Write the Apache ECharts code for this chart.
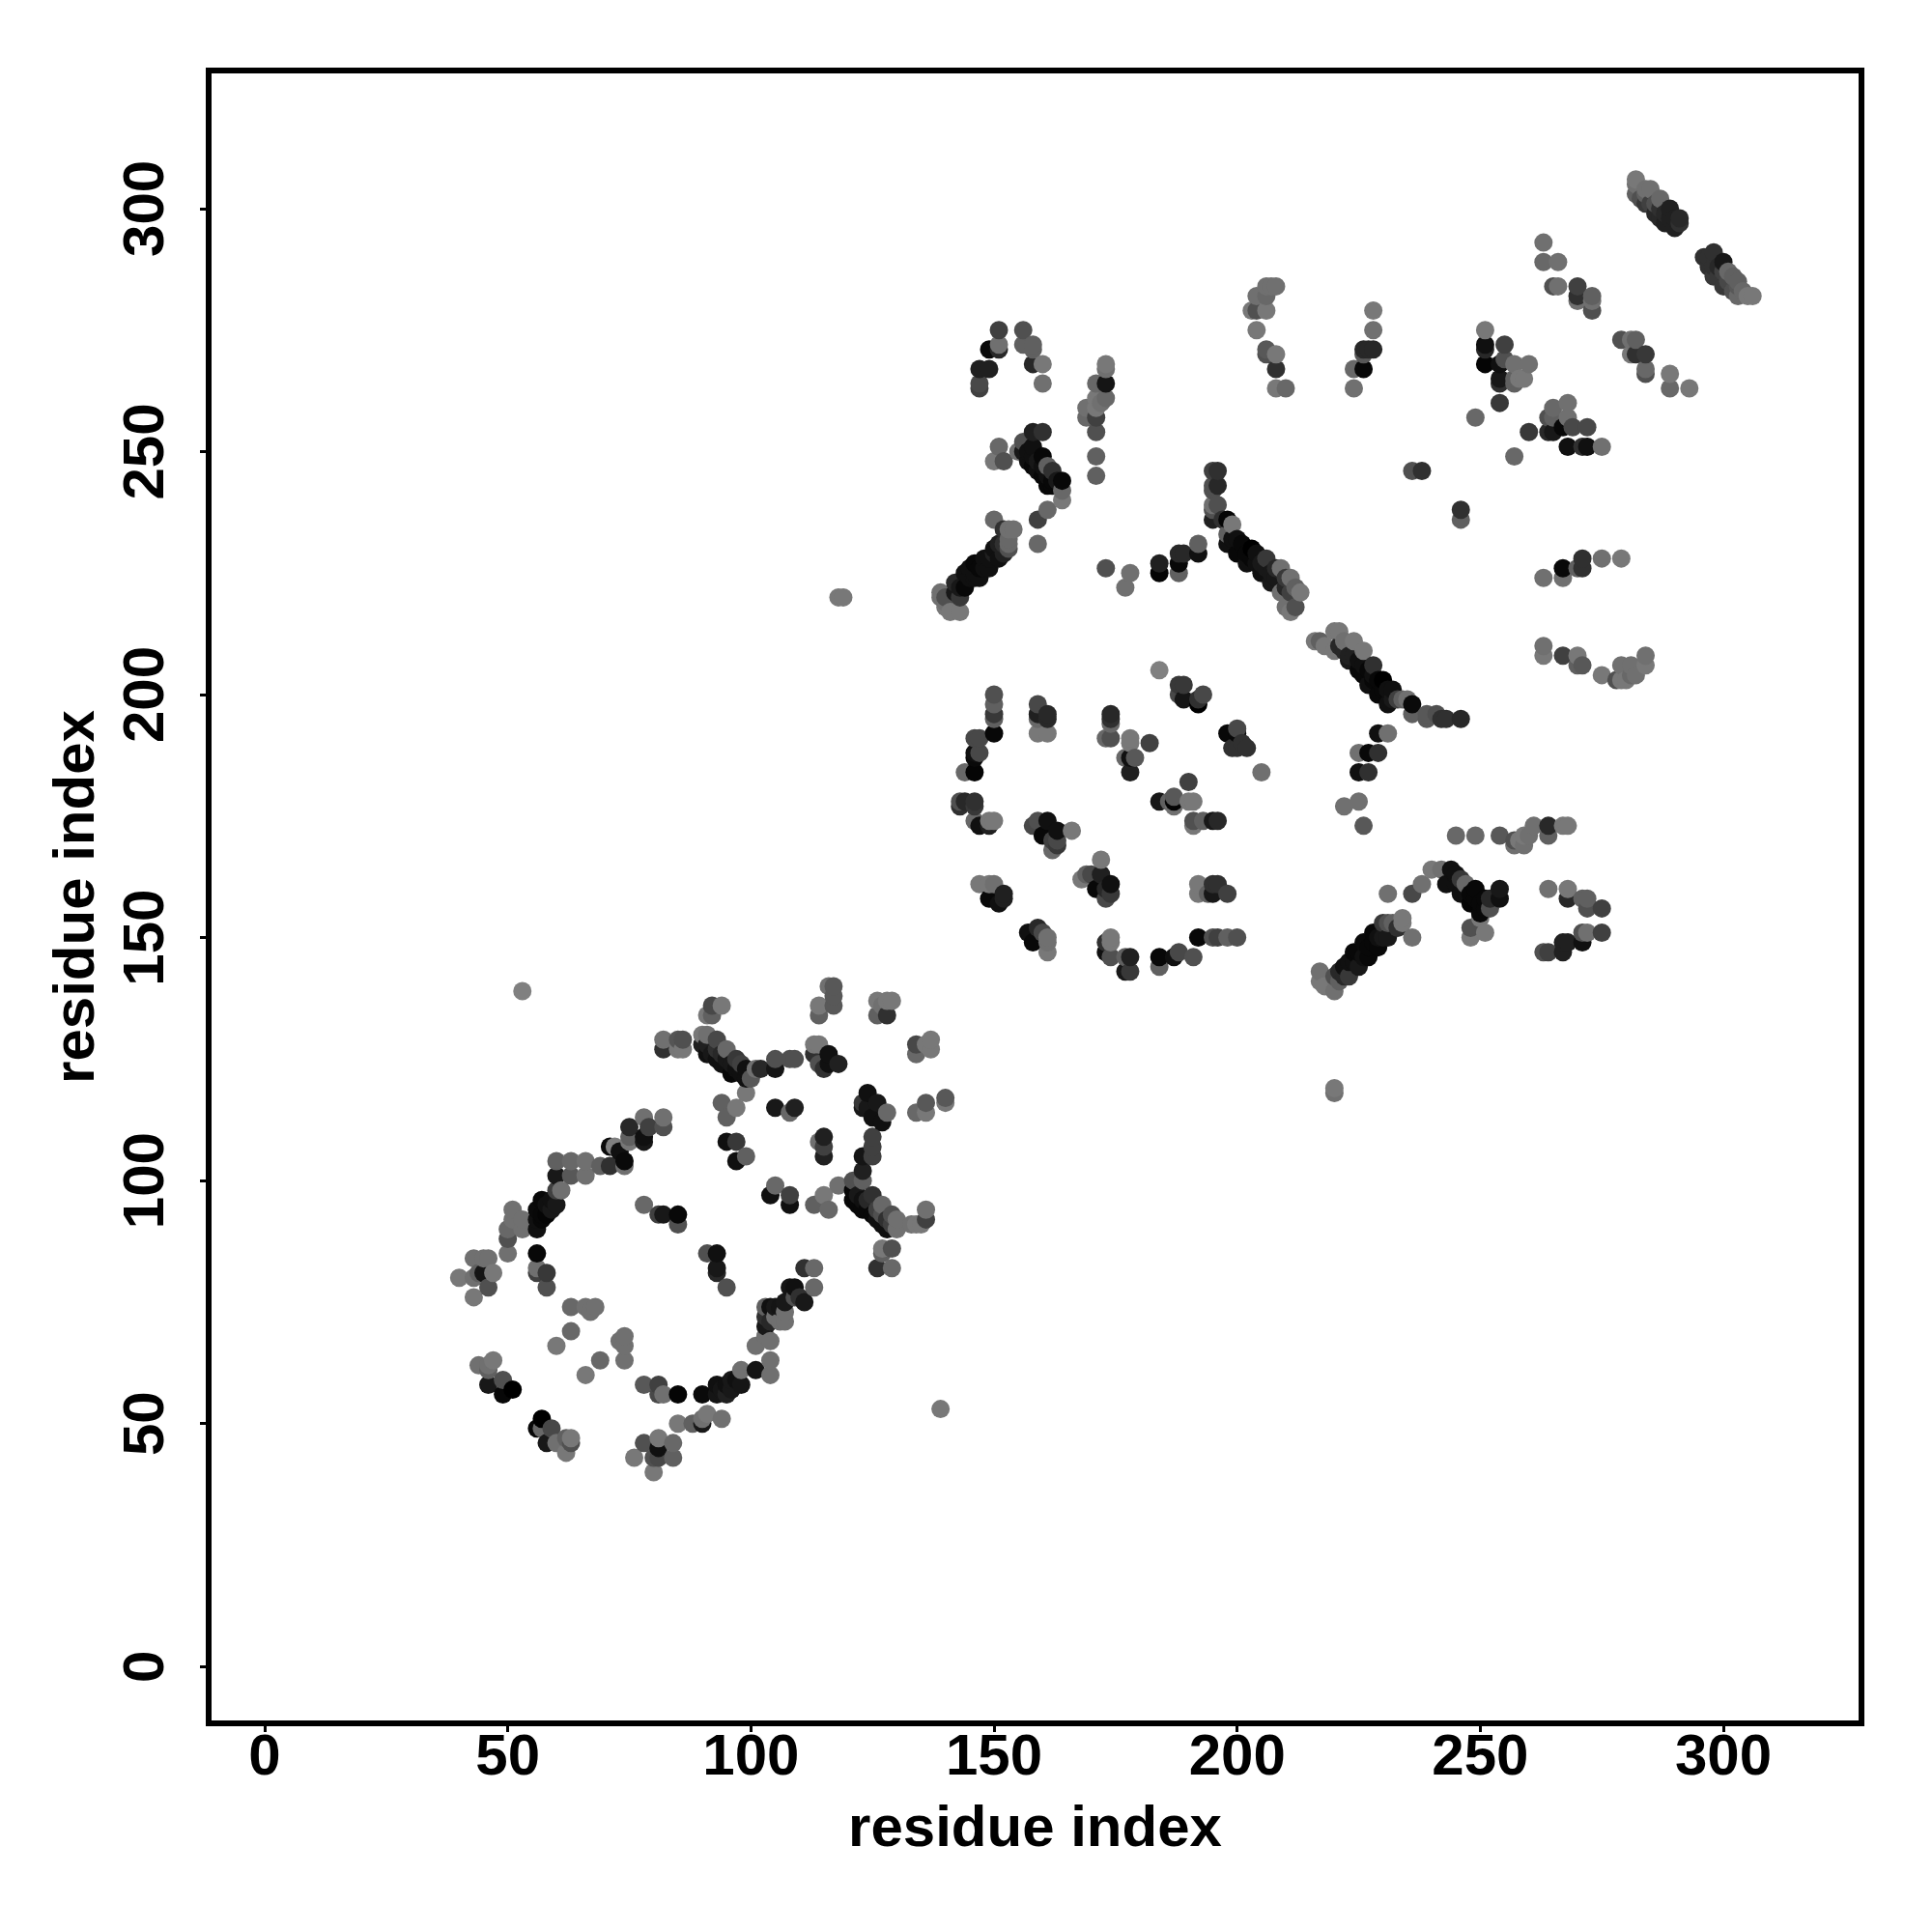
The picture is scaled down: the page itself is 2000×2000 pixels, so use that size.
<!DOCTYPE html>
<html>
<head>
<meta charset="utf-8">
<style>html,body{margin:0;padding:0;background:#fff}#chart{width:2000px;height:2000px}</style>
<script src="https://cdn.jsdelivr.net/npm/echarts@6/dist/echarts.min.js"></script>
</head>
<body>
<div id="chart"></div>
<script>
// [residue x, residue y, tone 0 (black) .. 128 (mid grey)]
const tickValues = [0, 50, 100, 150, 200, 250, 300];
const xTitle = 'residue index';
const yTitle = 'residue index';

const lowerUpperArm = [
[53,139,0x80],[82,129,0x70],[82,127,0x30],[85,129,0x55],[86,129,0x50],[85,127,0x77],[86,127,0x78],
[82,113,0x70],[82,111,0x50],[78,113,0x70],[79,111,0x40],[75,111,0x28],[78,108,0x18],[78,109,0x10],[75,109,0x60],[75,108,0x77],
[71,107,0x0a],[72,107,0x80],[73,106,0x10],[74,104,0x0a],[74,103,0x70],[71,103,0x30],[69,103,0x60],[66,104,0x70],[66,101,0x70],
[63,104,0x68],[63,101,0x58],[60,104,0x60],[60,101,0x18],[61,98,0x70],[60,98,0x40],[60,95,0x18],[57,96,0x08],[58,93,0x05],
[56,94,0x0a],[56,92,0x10],[56,90,0x10],[51,94,0x70],[53,92,0x70],[53,90,0x70],[51,92,0x70],[50,90,0x68],[50,88,0x50],[50,85,0x70],[56,85,0x08],
[78,95,0x68],[81,93,0x40],[82,93,0x18],[85,93,0x08],[85,91,0x50],[57,93,0x08],[58,95,0x10],[59,96,0x10],[59,94,0x18],[57,92,0x08]
];
const lowerBottomArm = [
[43,84,0x70],[45,84,0x70],[46,84,0x70],[40,80,0x78],[43,80,0x70],[47,81,0x78],[45,81,0x15],[46,78,0x50],[43,76,0x78],[44,81,0x60],
[56,82,0x70],[56,81,0x40],[58,81,0x38],[58,78,0x50],[63,74,0x68],[66,74,0x70],[67,73,0x70],[68,74,0x70],[63,69,0x68],[60,66,0x78],
[74,68,0x70],[73,67,0x70],[74,66,0x70],[74,63,0x70],[69,63,0x68],[66,60,0x78],[78,58,0x58],[81,58,0x40],[81,56,0x48],[82,56,0x70],[85,56,0x05],[90,56,0x0a],[93,58,0x10],
[44,62,0x70],[46,62,0x70],[47,63,0x78],[46,61,0x60],[46,58,0x18],[49,59,0x50],[49,56,0x08],[51,57,0x00],
[57,51,0x00],[56,49,0x08],[59,49,0x48],[58,46,0x18],[57,49,0x68],[60,46,0x70],[62,47,0x60],[63,47,0x78],[62,44,0x78],[63,46,0x50],
[78,46,0x50],[81,47,0x78],[81,45,0x10],[81,43,0x48],[84,46,0x68],[84,43,0x60],[76,43,0x78],[80,40,0x78],[80,43,0x50],
[85,50,0x78],[88,50,0x60],[90,50,0x18],[90,51,0x70],[91,52,0x78],[94,51,0x70],[91,85,0x50],[93,85,0x10],[93,82,0x18],[93,81,0x28],[95,78,0x50],
[93,56,0x15],[95,58,0x10],[96,59,0x18],[98,61,0x70],[101,61,0x15],[101,66,0x70],[104,60,0x70],[104,63,0x70],[104,67,0x70],[103,70,0x18],[103,72,0x30],[104,74,0x10],
[107,71,0x70],[107,73,0x70],[106,74,0x15],[108,78,0x15],[109,78,0x10],[111,75,0x18],[113,78,0x68],[111,82,0x30],[113,82,0x68],
[103,74,0x60],[104,71,0x28],[105,74,0x18],[105,72,0x70],[103,68,0x70],[106,71,0x70],[109,76,0x50],[110,76,0x30],[107,75,0x18],
[94,57,0x15],[95,56,0x20],[96,57,0x18],[97,59,0x10],[98,58,0x15]
];
const lowerRightArm = [
[91,134,0x78],[92,136,0x48],[94,136,0x78],[92,134,0x60],[90,130,0x78],[91,130,0x70],[93,129,0x48],[91,128,0x20],[92,126,0x18],[95,127,0x68],
[94,124,0x10],[97,125,0x38],[96,122,0x08],[99,123,0x10],[100,121,0x58],[99,121,0x10],[99,118,0x78],[101,123,0x70],[102,123,0x28],[105,125,0x50],[105,123,0x15],[108,125,0x50],[109,125,0x50],
[93,127,0x30],[94,126,0x28],[95,125,0x18],[96,124,0x18],[97,123,0x10],[98,122,0x10],[98,124,0x40],[93,125,0x10],[91,126,0x10],[90,128,0x20],
[113,128,0x78],[114,128,0x78],[113,126,0x30],[114,124,0x50],[116,126,0x10],[115,123,0x30],[116,124,0x10],[118,124,0x20],
[116,140,0x70],[117,140,0x58],[117,138,0x58],[117,136,0x58],[114,136,0x78],[114,134,0x60],
[126,137,0x78],[128,137,0x78],[129,137,0x78],[126,134,0x60],[128,134,0x30],[127,136,0x70],
[134,128,0x48],[137,129,0x78],[136,128,0x78],[137,127,0x78],[134,126,0x68],
[136,116,0x58],[140,117,0x58],[136,114,0x78],[134,114,0x68],[140,116,0x78],
[124,118,0x10],[123,116,0x38],[126,116,0x18],[124,115,0x18],[128,114,0x68],[125,113,0x10],[127,112,0x10],[123,115,0x18],
[94,116,0x60],[97,115,0x78],[95,113,0x60],[105,115,0x18],[108,114,0x68],[109,115,0x20],
[95,108,0x10],[97,108,0x38],[97,104,0x10],[99,105,0x60],[115,109,0x20],[114,108,0x70],[115,107,0x40],[115,105,0x20],
[125,109,0x40],[125,107,0x40],[123,105,0x15],[125,105,0x40],[123,102,0x20],[123,100,0x60],[121,100,0x50],[118,99,0x70],
[121,98,0x08],[121,96,0x08],[125,97,0x30],[124,94,0x08],[127,95,0x68],[126,92,0x10],[129,93,0x50],[130,92,0x70],[128,90,0x10],[130,90,0x70],[134,91,0x78],[135,91,0x78],[136,94,0x70],[136,92,0x40],[133,91,0x70],
[122,97,0x18],[122,95,0x08],[123,96,0x10],[123,94,0x08],[124,96,0x28],[125,93,0x08],[126,94,0x40],[127,91,0x10],[127,93,0x50],[128,92,0x30],[129,91,0x40],
[105,99,0x68],[104,97,0x10],[108,97,0x40],[108,95,0x10],[115,97,0x78],[113,95,0x60],[116,94,0x68],
[127,86,0x78],[129,86,0x50],[127,85,0x60],[126,82,0x30],[129,82,0x68],[118,220,0x78],[119,220,0x78],[220,119,0x78],[220,118,0x70],[139,53,0x78]
];
const upperLeftArm = [
[151,275,0x40],[156,275,0x50],[149,271,0x0a],[151,272,0x70],[151,271,0x28],[156,272,0x60],[158,272,0x60],[158,271,0x60],
[147,267,0x20],[149,267,0x20],[158,268,0x28],[160,268,0x78],[147,264,0x48],[147,263,0x40],[160,264,0x70],
[173,268,0x78],[173,267,0x70],[173,264,0x15],[171,264,0x68],[173,261,0x68],[171,261,0x78],[172,260,0x70],[169,259,0x70],[171,259,0x78],[169,257,0x68],[171,257,0x40],[171,254,0x50],[171,249,0x60],[171,245,0x60],
[158,254,0x20],[160,254,0x30],[156,252,0x50],[158,251,0x10],[155,250,0x70],[156,250,0x18],[157,248,0x10],[160,249,0x08],[161,247,0x60],[159,246,0x10],[162,246,0x30],[161,243,0x08],[164,244,0x08],[164,242,0x68],[164,240,0x78],[163,244,0x18],
[157,250,0x10],[158,249,0x10],[158,247,0x08],[159,248,0x18],[160,247,0x10],[160,245,0x08],[161,245,0x10],[162,244,0x08],[162,243,0x08],
[151,251,0x68],[150,248,0x78],[152,248,0x50],[161,238,0x68],[159,236,0x40],[159,231,0x68],
[150,236,0x68],[152,234,0x30],[153,234,0x70],[154,234,0x70],[153,231,0x68],[153,232,0x68],[151,231,0x20],[153,230,0x50],[150,230,0x10],[151,228,0x10],[149,228,0x10],[149,226,0x10],[146,227,0x08],[147,226,0x08],[144,225,0x10],[147,224,0x10],[144,222,0x08],[142,223,0x28],[143,220,0x38],[142,221,0x18],
[145,226,0x10],[146,225,0x10],[148,228,0x10],[150,229,0x20],[148,226,0x10],[145,224,0x10],[143,222,0x18],[146,224,0x10],[152,231,0x30],[152,229,0x20],
[139,221,0x70],[139,220,0x70],[140,220,0x50],[140,218,0x78],[141,217,0x78],[143,217,0x78],[140,219,0x70],
[173,226,0x50],[178,225,0x70],[177,222,0x70],[184,227,0x20],[184,225,0x05],[188,229,0x28],[189,229,0x28],[188,227,0x08],[188,225,0x60],[192,231,0x60],[192,229,0x10]
];
const upperCentreDiagonal = [
[195,246,0x40],[196,246,0x30],[195,243,0x50],[196,243,0x28],[195,242,0x50],[195,239,0x70],[196,239,0x50],[195,238,0x50],[195,236,0x20],
[198,236,0x05],[199,235,0x78],[198,233,0x60],[198,231,0x10],[200,232,0x10],[200,229,0x08],[203,230,0x00],[202,227,0x10],[206,228,0x38],[205,225,0x10],[203,228,0x08],[206,226,0x18],[209,226,0x70],[211,224,0x70],[207,223,0x18],[212,222,0x60],[213,221,0x78],[209,221,0x70],[212,218,0x50],[210,218,0x70],[211,217,0x78],
[201,231,0x08],[202,229,0x08],[204,229,0x10],[204,227,0x10],[205,227,0x18],[207,225,0x18],[208,224,0x18],[208,226,0x28],[210,222,0x28],[210,224,0x38],[211,221,0x40],[199,232,0x10],[197,236,0x30],
[217,211,0x60],[216,211,0x78],[218,210,0x78],[220,213,0x78],[221,213,0x78],[222,211,0x70],[220,209,0x78],[224,211,0x78],[221,210,0x28],[226,209,0x78],[223,208,0x20],[228,206,0x30],[225,205,0x08],[230,203,0x00],[227,202,0x10],[232,201,0x10],[229,200,0x08],[231,198,0x10],[234,199,0x60],[236,198,0x0a],[236,196,0x60],[239,196,0x58],[241,196,0x50],
[222,209,0x28],[223,207,0x18],[224,208,0x20],[225,207,0x10],[226,206,0x10],[226,204,0x08],[227,205,0x08],[228,203,0x08],[228,204,0x10],[229,203,0x08],[230,201,0x08],[231,201,0x10],[232,199,0x18],[233,199,0x40],
[239,195,0x58],[242,195,0x30],[243,195,0x30],[246,195,0x28],[235,199,0x70],
[229,192,0x10],[231,192,0x70],[225,188,0x70],[227,188,0x08],[229,188,0x30],[225,184,0x10],[227,184,0x30],[225,178,0x70],[222,177,0x70],[226,173,0x58]
];
const upperRightPatches = [
[263,210,0x70],[263,208,0x78],[267,208,0x40],[270,208,0x78],[271,206,0x58],[270,206,0x60],[275,204,0x78],
[245,171,0x68],[249,171,0x68],[254,171,0x58],[257,170,0x50],[257,169,0x70],[259,169,0x70],[259,171,0x78],[261,173,0x70],[260,171,0x70],[264,173,0x28],[264,171,0x60],[267,173,0x78],[268,173,0x78],[258,170,0x78],
[240,164,0x78],[242,164,0x70],[244,164,0x10],[238,161,0x70],[236,159,0x48],[231,159,0x70],[243,161,0x10],[246,162,0x38],[247,161,0x68],[246,159,0x10],[249,160,0x08],[248,157,0x05],[251,158,0x08],[250,155,0x08],[252,156,0x50],[250,154,0x78],[254,160,0x18],[254,158,0x10],
[245,163,0x10],[245,161,0x10],[247,159,0x10],[248,159,0x08],[249,158,0x08],[250,157,0x08],[251,156,0x08],[252,158,0x28],
[248,152,0x50],[251,151,0x78],[248,150,0x78],[264,160,0x70],[268,160,0x78],[268,158,0x28],[271,158,0x60],[272,158,0x60],[272,156,0x50],[275,156,0x40],
[272,151,0x70],[271,151,0x50],[271,149,0x10],[275,151,0x40],[267,149,0x20],[268,149,0x20],[267,147,0x20],[263,147,0x50],[264,147,0x40],
[217,143,0x70],[217,141,0x78],[218,140,0x78],[220,139,0x70],[220,142,0x50],[221,141,0x60],[221,143,0x28],[222,144,0x10],[223,142,0x38],[225,144,0x18],[224,147,0x08],[227,146,0x08],[226,149,0x0a],[229,148,0x08],[228,151,0x08],[231,150,0x18],[230,153,0x38],[231,153,0x50],[232,153,0x60],[233,152,0x30],[234,154,0x78],[234,153,0x78],[236,150,0x70],
[223,145,0x10],[224,145,0x10],[225,147,0x08],[226,146,0x10],[227,148,0x08],[228,149,0x08],[229,150,0x10],[230,150,0x18],[222,142,0x28],
[206,284,0x70],[207,284,0x70],[208,284,0x70],[204,282,0x70],[206,282,0x68],[203,279,0x78],[204,279,0x50],[206,279,0x78],[204,275,0x78],
[206,271,0x58],[206,270,0x50],[208,270,0x78],[208,267,0x30],[208,263,0x78],[210,263,0x68],
[228,279,0x78],[228,275,0x70],[226,271,0x28],[227,271,0x28],[228,271,0x28],[226,270,0x58],[224,267,0x68],[226,267,0x08],[224,263,0x70],
[236,246,0x50],[238,246,0x30],[246,238,0x30],[246,236,0x60],
[251,275,0x78],[251,272,0x10],[251,271,0x28],[251,268,0x05],[255,272,0x40],[255,269,0x50],[254,268,0x10],[257,268,0x70],[260,268,0x70],[259,265,0x78],[258,265,0x78],[257,265,0x60],[257,264,0x60],[254,265,0x18],[254,264,0x30],[254,260,0x38],[249,257,0x68],
[257,249,0x68],[260,254,0x38],[264,254,0x28],[265,254,0x18],[265,259,0x68],[268,260,0x70],[265,257,0x60],[268,257,0x70],[264,257,0x50],[267,255,0x08],[269,255,0x48],[272,255,0x48],[268,251,0x10],[271,251,0x30],[272,251,0x10],[275,251,0x70],
[263,293,0x70],[263,289,0x68],[266,289,0x70],[266,284,0x70],[265,284,0x50],[270,284,0x40],[270,282,0x30],[270,281,0x70],[273,282,0x60],[273,279,0x50],[273,281,0x70],
[282,306,0x78],[282,305,0x70],[282,303,0x60],[284,304,0x70],[285,304,0x70],[284,301,0x38],[287,302,0x68],[286,299,0x28],[289,300,0x20],[288,297,0x20],[291,298,0x28],[290,296,0x20],[291,297,0x30],
[283,302,0x50],[284,303,0x60],[285,301,0x40],[286,301,0x50],[287,300,0x30],[287,298,0x28],[288,299,0x28],[289,298,0x20],[290,298,0x20],
[298,291,0x30],[296,290,0x30],[297,288,0x30],[300,289,0x18],[298,286,0x38],[301,287,0x68],[300,284,0x38],[303,285,0x60],[303,282,0x68],[305,282,0x78],[306,282,0x78],
[297,290,0x30],[298,288,0x30],[299,288,0x28],[299,286,0x38],[300,287,0x40],[301,285,0x48],[302,286,0x60],[302,283,0x50],[303,284,0x58],[304,283,0x68],
[279,273,0x50],[281,273,0x70],[282,273,0x60],[281,270,0x78],[282,270,0x30],[284,270,0x38],[284,267,0x68],[284,266,0x50],[289,266,0x78],[289,263,0x68],[293,263,0x78],
[263,224,0x70],[267,224,0x70],[267,226,0x08],[270,226,0x60],[271,226,0x30],[271,228,0x30],[275,228,0x70],[279,228,0x78],
[279,206,0x70],[279,203,0x78],[278,203,0x50],[281,206,0x70],[281,204,0x68],[282,204,0x70],[284,208,0x70],[284,206,0x78],[280,203,0x78]
];
const upperRing = [
[150,200,0x50],[150,198,0x60],[150,196,0x38],[150,195,0x60],[150,192,0x08],[159,198,0x48],[159,196,0x20],[161,196,0x28],[161,195,0x28],[159,195,0x68],[159,192,0x78],[161,192,0x78],
[146,191,0x48],[147,191,0x48],[146,188,0x10],[147,188,0x48],[146,187,0x0a],[144,184,0x68],[146,184,0x05],
[143,178,0x50],[143,177,0x30],[144,178,0x28],[146,178,0x30],[146,177,0x38],[146,174,0x68],[147,173,0x10],[149,173,0x20],[149,174,0x78],[150,174,0x78],
[158,173,0x48],[159,174,0x50],[161,174,0x10],[160,171,0x08],[163,172,0x10],[162,170,0x40],[163,170,0x48],[162,168,0x68],[163,169,0x38],[166,172,0x78],
[172,166,0x78],[168,162,0x78],[169,163,0x60],[170,163,0x48],[172,163,0x20],[171,160,0x08],[174,161,0x10],[173,160,0x28],[174,159,0x38],[173,158,0x48],
[147,161,0x78],[149,161,0x78],[150,161,0x70],[149,158,0x08],[151,157,0x10],[152,159,0x20],[152,158,0x20],
[159,152,0x28],[157,151,0x10],[158,149,0x08],[160,151,0x48],[161,150,0x70],[161,149,0x70],[161,147,0x78],
[174,150,0x78],[174,149,0x78],[173,149,0x30],[173,147,0x10],[174,146,0x50],[178,146,0x20],[177,146,0x60],[177,143,0x18],[178,143,0x38],
[184,146,0x08],[184,144,0x60],[187,146,0x10],[188,147,0x48],[191,146,0x50],[192,150,0x08],[195,150,0x50],[196,150,0x40],[198,150,0x60],[200,150,0x50],
[192,161,0x78],[192,159,0x78],[195,161,0x30],[196,161,0x30],[195,159,0x18],[194,159,0x60],[198,159,0x40],
[184,205,0x80],[188,202,0x38],[189,202,0x38],[188,200,0x48],[189,199,0x15],[192,199,0x30],[193,200,0x48],[192,198,0x00],
[174,196,0x28],[174,195,0x30],[174,194,0x68],[174,191,0x50],[173,191,0x68],[178,191,0x78],[178,190,0x78],[182,190,0x40],[177,187,0x68],[178,187,0x10],[179,187,0x58],[178,184,0x20],
[190,182,0x40],[184,178,0x18],[186,178,0x60],[187,179,0x58],[187,178,0x05],[187,177,0x70],[190,178,0x78],[191,178,0x78],
[191,174,0x50],[191,173,0x78],[193,174,0x60],[195,174,0x18],[196,174,0x28],
[198,192,0x08],[200,193,0x48],[200,192,0x08],[199,189,0x30],[200,189,0x30],[202,189,0x30],[201,190,0x30],[205,184,0x70]
];

// R draws the contacts in residue order, so later residues sit on top.
const contacts = [].concat(lowerUpperArm, lowerBottomArm, lowerRightArm, upperLeftArm,
  upperCentreDiagonal, upperRightPatches, upperRing)
  .sort((a, b) => a[0] - b[0] || a[1] - b[1]);

const font = { color: '#000', fontFamily: 'Liberation Sans', fontWeight: 'bold', fontSize: 60 };
function axis(name, extra) {
  return Object.assign({
    type: 'value', name: name, nameLocation: 'middle',
    nameTextStyle: font,
    axisLine: { show: false, onZero: false },
    splitLine: { show: false },
    axisTick: { show: true, customValues: tickValues, length: 9, lineStyle: { color: '#000', width: 3 } }
  }, extra);
}
const chart = echarts.init(document.getElementById('chart'), null, { renderer: 'canvas' });
chart.setOption({
  animation: false,
  backgroundColor: '#fff',
  grid: { show: true, left: 216, top: 73, width: 1711, height: 1711, borderColor: '#000', borderWidth: 6, backgroundColor: 'transparent' },
  xAxis: axis(xTitle, { min: -11.52, max: 328.4, nameGap: 80,
    axisLabel: Object.assign({ customValues: tickValues, margin: 6, hideOverlap: false }, font) }),
  yAxis: axis(yTitle, { min: -11.67, max: 328.4, nameGap: 106, nameRotate: 90,
    axisLabel: Object.assign({ customValues: tickValues, margin: 34, rotate: 90, hideOverlap: false }, font) }),
  visualMap: { show: false, type: 'continuous', dimension: 2, min: 0, max: 128, seriesIndex: 0, inRange: { color: ['#000000', '#808080'] } },
  series: [{
    type: 'scatter', data: contacts, symbol: 'circle', symbolSize: 19, z: 3,
    encode: { x: 0, y: 1 }, clip: true, silent: true, large: false, itemStyle: { opacity: 1 }
  }]
});
</script>
</body>
</html>
